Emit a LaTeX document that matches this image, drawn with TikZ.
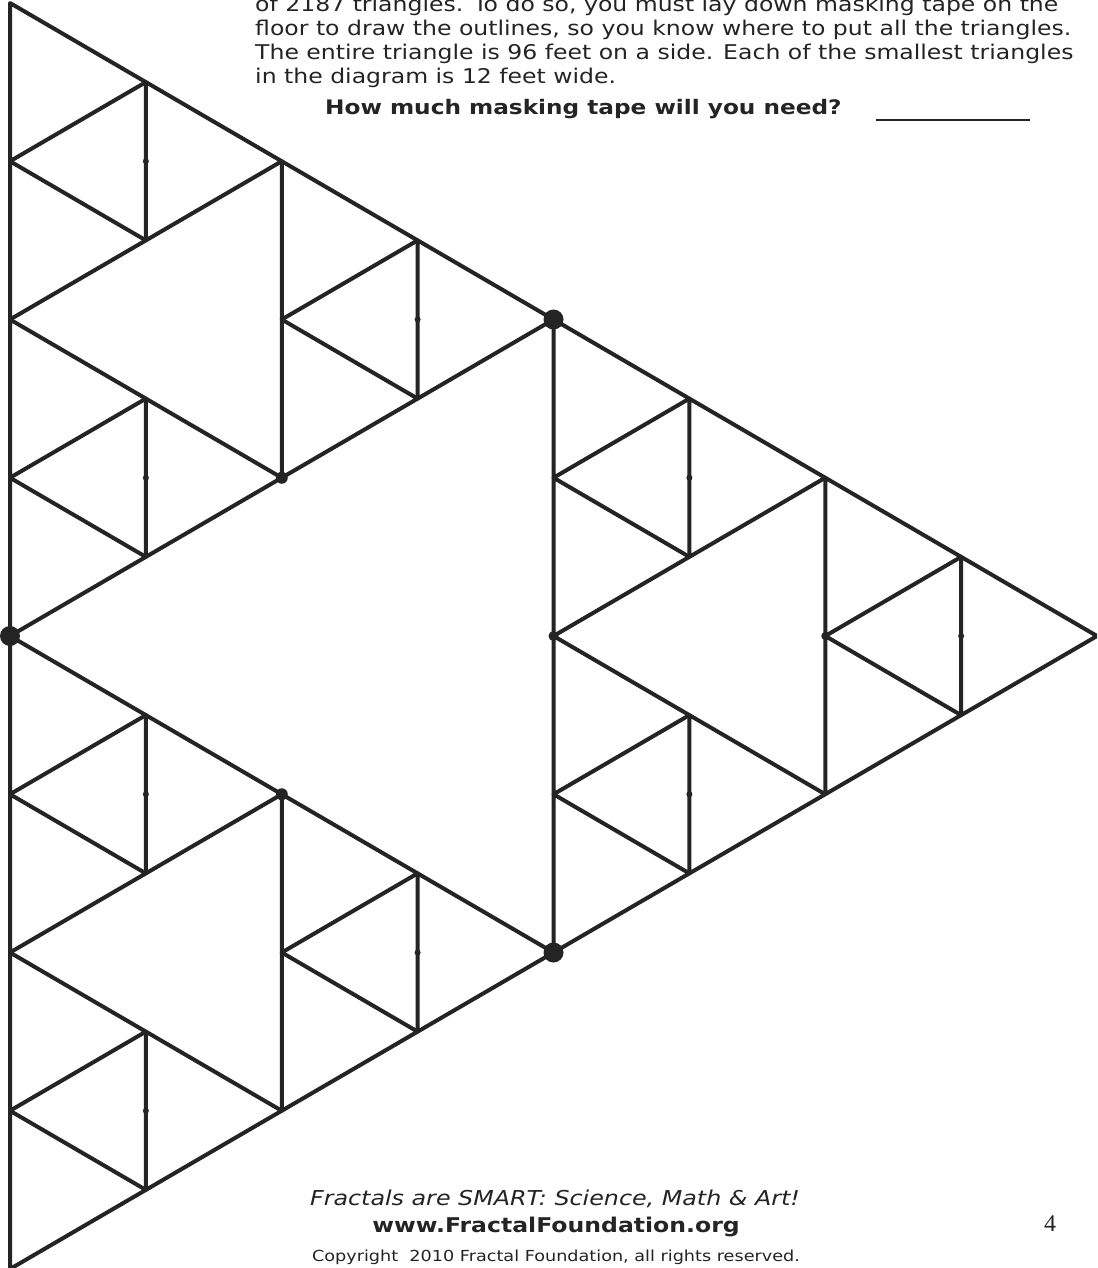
\documentclass[tikz,border=0pt]{standalone}
\usepackage{fontspec}
\setmainfont{DejaVu Sans}[FakeStretch=1.16]
\newfontfamily\numfont{Liberation Serif}
\definecolor{ink}{HTML}{242424}
\begin{document}
\begin{tikzpicture}[x=1pt,y=-1pt,
  edge/.style={line width=4pt, draw=ink, line join=round, line cap=round},
  bigdot/.style={fill=ink, circle, inner sep=0pt, minimum size=20pt},
  middot/.style={fill=ink, circle, inner sep=0pt, minimum size=12pt},
  smalldot/.style={fill=ink, circle, inner sep=0pt, minimum size=8pt},
  tick/.style={fill=ink, circle, inner sep=0pt, minimum size=6pt},
  bodytext/.style={anchor=base west, inner sep=0pt, font=\fontsize{20.3}{24}\selectfont, text=ink},
]
\clip (0,0) rectangle (1097,1268);
\fill[white] (0,0) rectangle (1097,1268);
% lattice: P(i,j) = A + i*u + j*v,  A=(10,3), u=(0,158.25), v=(135.875,79.125)
\foreach \i/\j in {0/0,0/1,0/2,0/3,0/4,0/5,0/6,0/7,
                   1/0,1/2,1/4,1/6,
                   2/0,2/1,2/4,2/5,
                   3/0,3/4,
                   4/0,4/1,4/2,4/3,
                   5/0,5/2,
                   6/0,6/1,
                   7/0}{
  \draw[edge] ({10+\j*135.875},{3+\i*158.25+\j*79.125}) -- ++(0,158.25)
      -- ++(135.875,-79.125) -- cycle;
}
% junction dots
\foreach \i/\j [count=\n] in {0/4,4/0,4/4}
  \node[bigdot] (big\n) at ({10+\j*135.875},{3+\i*158.25+\j*79.125}) {};
\foreach \i/\j [count=\n] in {2/2,4/2}
  \node[middot] (mid\n) at ({10+\j*135.875},{3+\i*158.25+\j*79.125}) {};
\node[smalldot, minimum size=10pt] (mid3) at ({10+4*135.875},{3+2*158.25+4*79.125}) {};
\node[smalldot] (sm1) at ({10+6*135.875},{3+1*158.25+6*79.125}) {};
\foreach \a/\b [count=\n] in {0/0,0/2,0/4,0/6,2/0,2/4,4/0,4/2,6/0}
  \node[tick] (tk\n) at ({10+(\b+1)*135.875},{3+(\a+0.5)*158.25+(\b+1)*79.125}) {};
% text at the top
\node[bodytext] (l1) at (255,12) {of 2187 triangles. To do so, you must lay down masking tape on the};
\node[bodytext] (l2) at (255,36) {floor to draw the outlines, so you know where to put all the triangles.};
\node[bodytext] (l3) at (255,60) {The entire triangle is 96 feet on a side. Each of the smallest triangles};
\node[bodytext] (l4) at (255,84) {in the diagram is 12 feet wide.};
\node[bodytext, font=\fontsize{20}{24}\selectfont\bfseries] (q) at (325,115) {How much masking tape will you need?};
\coordinate (u1) at (876,120);
\coordinate (u2) at (1030,120);
\draw[ink, line width=2pt] (u1) -- (u2);
% footer
\node[anchor=base, inner sep=0pt, text=ink, font=\fontsize{20.5}{24}\selectfont\itshape] (f1) at (555,1205) {Fractals are SMART: Science, Math \& Art!};
\node[anchor=base, inner sep=0pt, text=ink, font=\fontsize{20.3}{24}\selectfont\bfseries] (f2) at (556,1232) {www.FractalFoundation.org};
\node[anchor=base, inner sep=0pt, text=ink, font=\fontsize{15.2}{18}\selectfont] (f3) at (556,1261) {Copyright\ \ 2010 Fractal Foundation, all rights reserved.};
\node[anchor=base, inner sep=0pt, text=ink, font=\fontsize{24}{28}\selectfont\numfont] (pg) at (1050,1231) {4};
\end{tikzpicture}
\end{document}
